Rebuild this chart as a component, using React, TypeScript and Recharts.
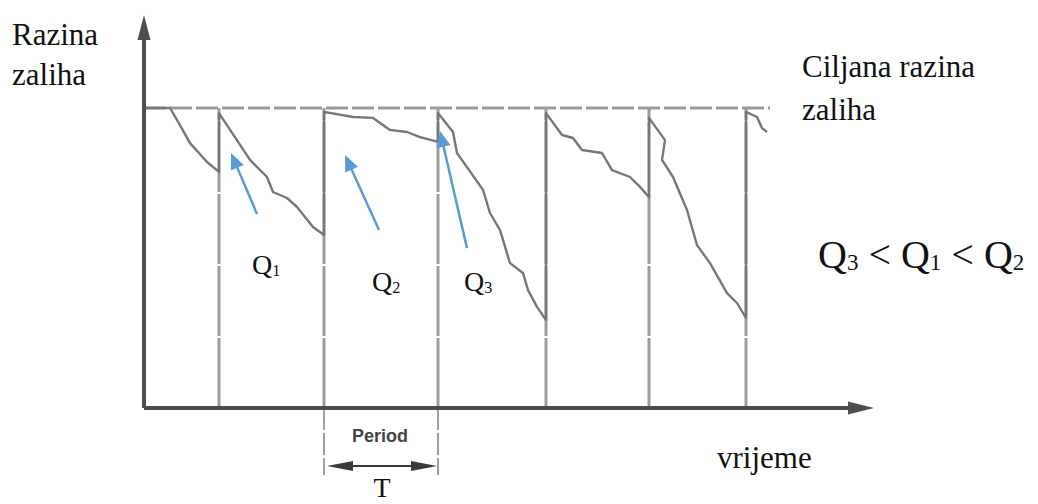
import { LineChart, Line, XAxis, YAxis, ReferenceLine } from "recharts";

// time units: 1 = one tenth of the drawn axis step, level units: target = 100
const targetLevel = 100;
const reviewTimes = [7.5, 18, 29.4, 40.2, 50.5, 60.2];

const stockTime = [
  0, 2.6, 3.6, 4.6, 6.3, 7.5,
  7.5, 10.6, 12.3, 12.9, 14.3, 15.3, 16.9, 18,
  18, 20.9, 22.9, 24.6, 26.3, 27.6, 29.4,
  29.4, 30.9, 31.3, 32.3, 33.9, 34.6, 35.6, 36.6, 37.9, 38.4, 39.3, 40.2,
  40.2, 41.8, 42.9, 43.8, 45.8, 46.8, 48.6, 49.6, 50.5,
  50.5, 52.1, 51.8, 52.9, 54.3, 55.3, 56.6, 58.3, 59.3, 60.2,
  60.2, 61.3, 61.8, 62.3,
];
const stockLevel = [
  100, 100, 94.3, 88.3, 82, 78.7,
  98.3, 82.7, 77, 72, 70, 67, 60.3, 57.7,
  98.7, 97, 96.7, 92.7, 92, 90.3, 88.7,
  98.3, 92, 85, 80.3, 72.7, 65, 59.3, 48.3, 45, 39.3, 33.7, 29.3,
  98.3, 91, 90, 86, 85, 79.3, 77, 73.7, 70.3,
  96.7, 89.3, 82.7, 77, 66, 54.3, 48.3, 38.3, 35, 30,
  98.7, 97, 93.3, 92,
];

const orderArrows = [
  { name: "Q1", from: [11.3, 64.7], to: [8.7, 85] },
  { name: "Q2", from: [23.5, 59.3], to: [20.1, 84.3] },
  { name: "Q3", from: [32.3, 53.3], to: [29.6, 92.3] },
];

const xMax = 73;
const yMax = 131;
const periodFrom = 18;
const periodTo = 29.4;

const data = stockTime.map((t, i) => ({ t, level: stockLevel[i] }));

function arrowShape(head: number, half: number, color: string, width: number, both = false) {
  return (p: any) => {
    const { x1, y1, x2, y2 } = p;
    const dx = x2 - x1;
    const dy = y2 - y1;
    const len = Math.hypot(dx, dy) || 1;
    const ux = dx / len;
    const uy = dy / len;
    const tri = (tx: number, ty: number, d: number) => {
      const bx = tx - d * ux * head;
      const by = ty - d * uy * head;
      return `${tx},${ty} ${bx - uy * half},${by + ux * half} ${bx + uy * half},${by - ux * half}`;
    };
    const sx = both ? x1 + ux * (head - 2) : x1;
    const sy = both ? y1 + uy * (head - 2) : y1;
    const ex = x2 - ux * (head - 2);
    const ey = y2 - uy * (head - 2);
    return (
      <g>
        <line x1={sx} y1={sy} x2={ex} y2={ey} stroke={color} strokeWidth={width} />
        <polygon points={tri(x2, y2, 1)} fill={color} />
        {both ? <polygon points={tri(x1, y1, -1)} fill={color} /> : null}
      </g>
    );
  };
}

const serif = {
  fontFamily: '"Times New Roman", "Liberation Serif", Tinos, "DejaVu Serif", "Noto Serif", serif',
};

function QLabel({ x, y, size, sub }: { x: number; y: number; size: number; sub: string }) {
  return (
    <text x={x} y={y} style={serif} fontSize={size} fill="#111">
      Q
      <tspan fontSize={size * 0.58} dy={2}>
        {sub}
      </tspan>
    </text>
  );
}

export default function App() {
  return (
    <div style={{ position: "absolute", left: 0, top: 0, width: 1038, height: 504, background: "#fff" }}>
      <LineChart
        width={1038}
        height={504}
        data={data}
        margin={{ top: 15, right: 1038 - 144 - 730, bottom: 96, left: 144 }}
      >
        <XAxis dataKey="t" type="number" domain={[0, xMax]} hide />
        <YAxis type="number" domain={[0, yMax]} hide />

        <ReferenceLine
          segment={[{ x: 0, y: targetLevel }, { x: 62.6, y: targetLevel }]}
          stroke="#9a9a9a"
          strokeWidth={3}
          strokeDasharray="22 4"
          ifOverflow="visible"
        />
        {reviewTimes.map((t) => (
          <ReferenceLine
            key={t}
            segment={[{ x: t, y: 0 }, { x: t, y: targetLevel }]}
            stroke="#9c9c9c"
            strokeWidth={3}
            strokeDasharray="70 2"
            ifOverflow="visible"
          />
        ))}
        {[periodFrom, periodTo].map((t) => (
          <ReferenceLine
            key={"p" + t}
            segment={[{ x: t, y: 0 }, { x: t, y: -22.3 }]}
            stroke="#a0a0a0"
            strokeWidth={2}
            strokeDasharray="22 3"
            ifOverflow="visible"
          />
        ))}
        <ReferenceLine
          segment={[{ x: periodFrom + 0.3, y: -19.3 }, { x: periodTo - 0.1, y: -19.3 }]}
          stroke="#333"
          ifOverflow="visible"
          shape={arrowShape(26, 5, "#3a3a3a", 2, true)}
        />

        <Line
          dataKey="level"
          type="linear"
          stroke="#777"
          strokeWidth={2.4}
          strokeLinejoin="round"
          dot={false}
          activeDot={false}
          isAnimationActive={false}
        />

        {orderArrows.map((a) => (
          <ReferenceLine
            key={a.name}
            segment={[{ x: a.from[0], y: a.from[1] }, { x: a.to[0], y: a.to[1] }]}
            stroke="#5b9bd5"
            ifOverflow="visible"
            shape={arrowShape(16, 7, "#5b9bd5", 2.5)}
          />
        ))}

        <ReferenceLine
          segment={[{ x: 0, y: 0 }, { x: 0, y: yMax }]}
          stroke="#4d4d4d"
          ifOverflow="visible"
          shape={arrowShape(25, 6.5, "#4d4d4d", 4)}
        />
        <ReferenceLine
          segment={[{ x: 0, y: 0 }, { x: xMax, y: 0 }]}
          stroke="#4d4d4d"
          ifOverflow="visible"
          shape={arrowShape(26, 6.5, "#4d4d4d", 4)}
        />
      </LineChart>

      <svg
        width={1038}
        height={504}
        style={{ position: "absolute", left: 0, top: 0, pointerEvents: "none" }}
      >
        <g style={serif} fontSize={31} fill="#111">
          <text x={12} y={45}>Razina</text>
          <text x={12} y={85}>zaliha</text>
          <text x={802} y={77}>Ciljana razina</text>
          <text x={802} y={120}>zaliha</text>
          <text x={717} y={468}>vrijeme</text>
          <text x={382} y={497} textAnchor="middle" fontSize={28}>T</text>
        </g>
        <text
          x={380}
          y={442}
          textAnchor="middle"
          style={{ fontFamily: "Liberation Sans, Arial, sans-serif" }}
          fontWeight="bold"
          fontSize={18}
          fill="#444"
        >
          Period
        </text>
        <QLabel x={252} y={274} size={28} sub="1" />
        <QLabel x={372} y={291} size={28} sub="2" />
        <QLabel x={464} y={291} size={28} sub="3" />
        <text x={818} y={268} style={serif} fontSize={40} fill="#111">
          Q<tspan fontSize={23} dy={2}>3</tspan>
          <tspan dy={-2}> {"<"} Q</tspan>
          <tspan fontSize={23} dy={2}>1</tspan>
          <tspan dy={-2}> {"<"} Q</tspan>
          <tspan fontSize={23} dy={2}>2</tspan>
        </text>
      </svg>
    </div>
  );
}
